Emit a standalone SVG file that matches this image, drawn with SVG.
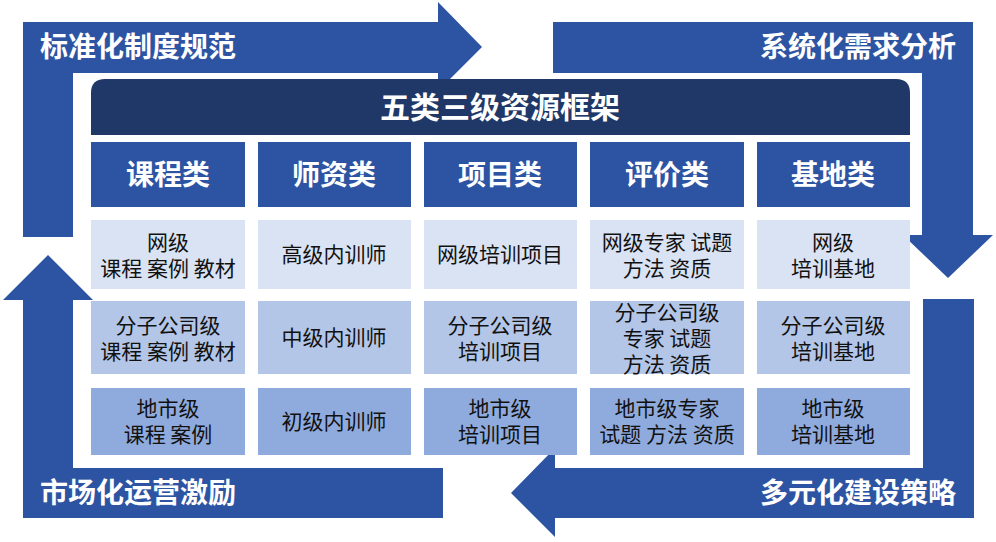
<svg xmlns="http://www.w3.org/2000/svg" width="996" height="542" viewBox="0 0 996 542">
<style>
text{font-family:"Noto Sans CJK SC","Noto Sans",sans-serif;text-anchor:middle}
.arr{fill:#2d54a3}
.al{fill:#fff;font-size:28px;font-weight:bold}
.h{fill:#2d54a3}
.ht{fill:#fff;font-size:28px;font-weight:bold}
.c{font-size:21px;fill:#111}
.r1{fill:#dae3f3}.r2{fill:#b4c6e7}.r3{fill:#8faadc}
</style>
<rect width="996" height="542" fill="#fff"/>
<g id="connectors">
<path class="arr" d="M23 22H438V2L482 47L438 91V73H73V237H23Z"/>
<path class="arr" d="M553 22H973V235H993L948 278L903 235H922V73H553Z"/>
<path class="arr" d="M974 299V518H555V537L511 493L555 448V468H923V299Z"/>
<path class="arr" d="M23 518V300H3L48 255L93 300H73V468H443V518Z"/>
</g>
<g id="label-tl"><text class="al" x="138" y="57">标准化制度规范</text></g>
<g id="label-tr"><text class="al" x="858" y="57">系统化需求分析</text></g>
<g id="label-br"><text class="al" x="858" y="503">多元化建设策略</text></g>
<g id="label-bl"><text class="al" x="138" y="503">市场化运营激励</text></g>
<g id="title"><path d="M91 135V93Q91 79 105 79H896Q910 79 910 93V135Z" fill="#1f3868"/><text x="500" y="118" fill="#fff" font-size="30" font-weight="bold">五类三级资源框架</text></g>
<g id="headers">
<rect class="h" x="91" y="142" width="154" height="65"/><text class="ht" x="168" y="185">课程类</text>
<rect class="h" x="258" y="142" width="153" height="65"/><text class="ht" x="334" y="185">师资类</text>
<rect class="h" x="424" y="142" width="153" height="65"/><text class="ht" x="500" y="185">项目类</text>
<rect class="h" x="590" y="142" width="154" height="65"/><text class="ht" x="667" y="185">评价类</text>
<rect class="h" x="757" y="142" width="153" height="65"/><text class="ht" x="833" y="185">基地类</text>
</g>
<g id="row1">
<rect class="r1" x="91" y="220" width="154" height="69"/><text class="c" x="168" y="250">网级</text><text class="c" x="168" y="276">课程 案例 教材</text>
<rect class="r1" x="258" y="220" width="153" height="69"/><text class="c" x="334" y="262">高级内训师</text>
<rect class="r1" x="424" y="220" width="153" height="69"/><text class="c" x="500" y="262">网级培训项目</text>
<rect class="r1" x="590" y="220" width="154" height="69"/><text class="c" x="667" y="250">网级专家 试题</text><text class="c" x="667" y="276">方法 资质</text>
<rect class="r1" x="757" y="220" width="153" height="69"/><text class="c" x="833" y="250">网级</text><text class="c" x="833" y="276">培训基地</text>
</g>
<g id="row2">
<rect class="r2" x="91" y="301" width="154" height="73"/><text class="c" x="168" y="333">分子公司级</text><text class="c" x="168" y="359">课程 案例 教材</text>
<rect class="r2" x="258" y="301" width="153" height="73"/><text class="c" x="334" y="345">中级内训师</text>
<rect class="r2" x="424" y="301" width="153" height="73"/><text class="c" x="500" y="333">分子公司级</text><text class="c" x="500" y="359">培训项目</text>
<rect class="r2" x="590" y="301" width="154" height="73"/><text class="c" x="667" y="320">分子公司级</text><text class="c" x="667" y="346">专家 试题</text><text class="c" x="667" y="372">方法 资质</text>
<rect class="r2" x="757" y="301" width="153" height="73"/><text class="c" x="833" y="333">分子公司级</text><text class="c" x="833" y="359">培训基地</text>
</g>
<g id="row3">
<rect class="r3" x="91" y="388" width="154" height="67"/><text class="c" x="168" y="416">地市级</text><text class="c" x="168" y="442">课程 案例</text>
<rect class="r3" x="258" y="388" width="153" height="67"/><text class="c" x="334" y="429">初级内训师</text>
<rect class="r3" x="424" y="388" width="153" height="67"/><text class="c" x="500" y="416">地市级</text><text class="c" x="500" y="442">培训项目</text>
<rect class="r3" x="590" y="388" width="154" height="67"/><text class="c" x="667" y="416">地市级专家</text><text class="c" x="667" y="442">试题 方法 资质</text>
<rect class="r3" x="757" y="388" width="153" height="67"/><text class="c" x="833" y="416">地市级</text><text class="c" x="833" y="442">培训基地</text>
</g>
</svg>
